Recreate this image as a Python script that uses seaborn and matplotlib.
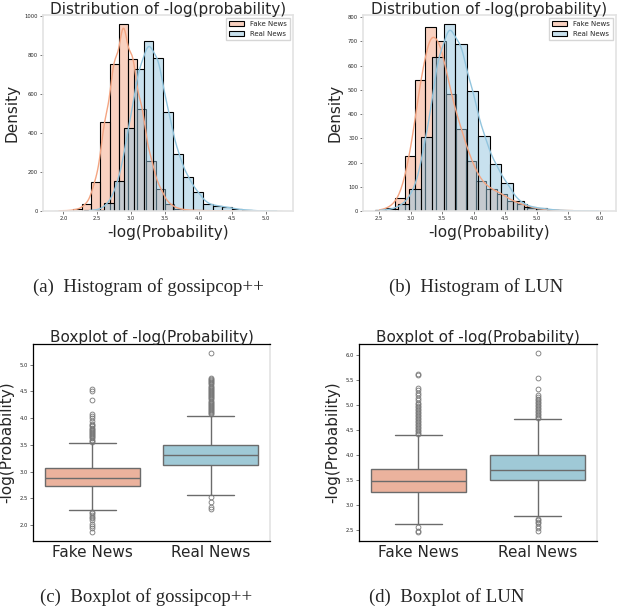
import numpy as np
import pandas as pd
import matplotlib
matplotlib.use("Agg")
import matplotlib.pyplot as plt
import matplotlib.colors as mcolors
import seaborn as sns

sns.set_style("white")
plt.rcParams["font.family"] = ["DejaVu Sans"]

FAKE = "#f4a582"
REAL = "#92c5de"
FAKE_BOX = "#ebb29d"
REAL_BOX = "#9fc9d6"
LABELS = ["Fake News", "Real News"]

# histogram bin counts, 20 equal-width bins per class (range = first/last edge)
gc_fake_range = (1.865, 4.59)
gc_fake_counts = [1, 2, 8, 34, 148, 457, 753, 955, 778, 524, 258, 113, 36, 12, 5, 3, 2, 1, 1, 1]
gc_real_range = (2.31, 5.23)
gc_real_counts = [3, 6, 40, 156, 426, 727, 870, 783, 507, 294, 172, 96, 36, 27, 19, 9, 5, 1, 0, 1]

lun_fake_range = (2.427, 5.657)
lun_fake_counts = [3, 14, 55, 226, 539, 757, 701, 482, 340, 208, 122, 90, 72, 42, 28, 14, 7, 4, 2, 2]
lun_real_range = (2.432, 6.076)
lun_real_counts = [3, 7, 28, 90, 305, 635, 770, 687, 496, 310, 192, 115, 42, 18, 11, 5, 2, 1, 0, 1]

# boxplot summaries: whisker low, q1, median, q3, whisker high
gc_fake_box = [2.28, 2.74, 2.89, 3.06, 3.53]
gc_fake_out = [1.87, 1.94, 1.98, 2.02, 2.10, 2.13, 2.16, 2.19, 2.22, 2.25,
               3.56, 3.58, 3.60, 3.62, 3.64, 3.66, 3.68, 3.70, 3.72, 3.74, 3.76,
               3.78, 3.80, 3.82, 3.85, 3.88, 3.90, 3.95, 4.00, 4.05, 4.08,
               4.34, 4.50, 4.55]
gc_real_box = [2.57, 3.12, 3.31, 3.49, 4.04]
gc_real_out = [2.30, 2.34, 2.44, 2.53,
               4.07, 4.09, 4.11, 4.13, 4.15, 4.17, 4.19, 4.21, 4.23, 4.25, 4.27,
               4.29, 4.31, 4.33, 4.35, 4.37, 4.39, 4.41, 4.43, 4.45, 4.47, 4.49,
               4.51, 4.53, 4.55, 4.57, 4.59, 4.61, 4.63, 4.65, 4.68, 4.70, 4.72,
               4.74, 4.75, 5.22]
lun_fake_box = [2.61, 3.26, 3.47, 3.72, 4.40]
lun_fake_out = [2.45, 2.47, 2.55,
                4.42, 4.45, 4.48, 4.51, 4.54, 4.57, 4.60, 4.63, 4.66, 4.69, 4.72,
                4.75, 4.78, 4.81, 4.84, 4.87, 4.90, 4.93, 4.96, 4.99, 5.02, 5.05,
                5.10, 5.15, 5.20, 5.25, 5.30, 5.35, 5.60, 5.62]
lun_real_box = [2.77, 3.50, 3.70, 3.99, 4.72]
lun_real_out = [2.48, 2.53, 2.58, 2.63, 2.66, 2.69, 2.72,
                4.74, 4.77, 4.80, 4.83, 4.86, 4.89, 4.92, 4.95, 4.98, 5.01, 5.04,
                5.07, 5.10, 5.13, 5.16, 5.20, 5.32, 5.55, 6.05]


def box_sample(summary, outliers):
    # rebuild a sample whose quartiles / whiskers match the summary
    lo, q1, med, q3, hi = summary
    return list(outliers) + [lo] + [q1] * 300 + [med] * 200 + [q3] * 300 + [hi]


def draw_hist(ax, fake_range, fake_counts, real_range, real_counts):
    parts = [(fake_range, fake_counts, FAKE, LABELS[0]),
             (real_range, real_counts, REAL, LABELS[1])]
    for i, (rng, counts, color, label) in enumerate(parts):
        n = len(counts)
        w = (rng[1] - rng[0]) / n
        centers = rng[0] + w * (np.arange(n) + 0.5)
        before = len(ax.patches)
        sns.histplot(x=centers, weights=counts, bins=n, binrange=rng, color=color,
                     alpha=0.5, edgecolor="black", linewidth=0.8, kde=True,
                     kde_kws={"bw_adjust": 0.35}, line_kws={"linewidth": 1},
                     label=label, ax=ax)
        if i == 0:
            for p in ax.patches[before:]:
                p.set_alpha(None)
                p.set_facecolor(mcolors.to_rgba(color, 0.5))
                p.set_edgecolor("black")
    ax.set_title("Distribution of -log(probability)", fontsize=11, pad=1)
    ax.set_xlabel("-log(Probability)", fontsize=11, labelpad=3)
    ax.set_ylabel("Density", fontsize=11)
    ax.legend(loc="upper right", fontsize=5, frameon=True, edgecolor="#cccccc",
              fancybox=False, handlelength=2.2, borderpad=0.4)
    ax.tick_params(labelsize=3.8, length=2, width=0.5, color="#444444", pad=1.5,
                   bottom=True, left=True)
    for s in ax.spines.values():
        s.set_color("#e3e3e3")
        s.set_linewidth(1.2)


def draw_box(ax, fake_summary, fake_out, real_summary, real_out):
    df = pd.DataFrame({
        "label": [LABELS[0]] * (len(fake_out) + 802) + [LABELS[1]] * (len(real_out) + 802),
        "value": box_sample(fake_summary, fake_out) + box_sample(real_summary, real_out),
    })
    sns.boxplot(data=df, x="label", y="value", hue="label",
                palette=[FAKE_BOX, REAL_BOX], saturation=1, legend=False,
                linecolor="#6b6b6b", linewidth=1, width=0.8,
                flierprops={"marker": "o", "markerfacecolor": "none",
                            "markeredgecolor": "#777777", "markersize": 3.5,
                            "markeredgewidth": 0.6},
                ax=ax)
    ax.set_title("Boxplot of -log(Probability)", fontsize=11, pad=1.5)
    ax.set_xlabel("")
    ax.set_ylabel("-log(Probability)", fontsize=11)
    ax.tick_params(axis="x", labelsize=11, length=0, pad=3)
    ax.tick_params(axis="y", labelsize=3.8, length=2, width=0.5, color="#444444",
                   pad=1.5, left=True)
    for name in ["left", "top", "bottom"]:
        ax.spines[name].set_color("black")
        ax.spines[name].set_linewidth(0.9)
    ax.spines["right"].set_color("#e3e3e3")
    ax.spines["right"].set_linewidth(1.2)


fig = plt.figure(figsize=(6.2, 6.06), dpi=100)
W, H = 620, 606


def place(left, top, right, bottom):
    return fig.add_axes([left / W, 1 - bottom / H, (right - left) / W, (bottom - top) / H])


ax_a = place(43, 15, 293, 211)
ax_b = place(363, 15, 616, 211)
ax_c = place(33, 344, 270, 541)
ax_d = place(359, 344, 597, 541)

draw_hist(ax_a, gc_fake_range, gc_fake_counts, gc_real_range, gc_real_counts)
draw_hist(ax_b, lun_fake_range, lun_fake_counts, lun_real_range, lun_real_counts)
draw_box(ax_c, gc_fake_box, gc_fake_out, gc_real_box, gc_real_out)
draw_box(ax_d, lun_fake_box, lun_fake_out, lun_real_box, lun_real_out)

captions = [("(a)  Histogram of gossipcop++", 148, 287),
            ("(b)  Histogram of LUN", 476, 287),
            ("(c)  Boxplot of gossipcop++", 146, 597),
            ("(d)  Boxplot of LUN", 447, 597)]
for text, cx, cy in captions:
    fig.text(cx / W, 1 - cy / H, text, ha="center", va="center",
             fontsize=13.5, family=["Liberation Serif", "DejaVu Serif"])

fig.savefig("out.png", dpi=100)
